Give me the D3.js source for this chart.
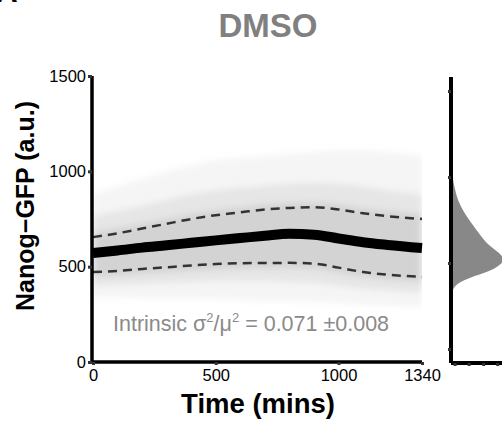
<!DOCTYPE html>
<html>
<head>
<meta charset="UTF-8">
<style>
  body { margin: 0; background: #fff; }
  text { font-family: "Liberation Sans", Arial, Helvetica, sans-serif; }
</style>
<title>DMSO Nanog-GFP</title>
</head>
<body>
<script src="https://cdn.jsdelivr.net/npm/d3@7/dist/d3.min.js"></script>
<script>
// time points (mins)
var times = [0, 100, 200, 300, 400, 500, 600, 700, 800, 900, 1000, 1100, 1200, 1340];
// mean trace and +/- sd (dashed)
var meanVals  = [572, 585, 600, 612, 625, 638, 650, 662, 672, 668, 648, 628, 614, 598];
var upperVals = [655, 675, 700, 725, 750, 770, 785, 800, 808, 812, 800, 780, 765, 750];
var lowerVals = [472, 478, 488, 497, 506, 514, 518, 519, 520, 516, 495, 472, 458, 446];
// envelopes of the single cell traces (grey cloud)
var outerHi = [880, 920, 960, 1000, 1030, 1060, 1070, 1080, 1090, 1100, 1110, 1110, 1100, 1080];
var outerLo = [340, 340, 335, 330, 330, 330, 325, 320, 320, 315, 310, 300, 295, 290];
var midHi   = [760, 790, 820, 850, 880, 900, 915, 925, 935, 940, 935, 920, 900, 880];
var midLo   = [400, 405, 410, 415, 420, 425, 425, 425, 420, 415, 400, 385, 375, 365];
var innerHi = [680, 700, 725, 750, 775, 795, 810, 825, 832, 835, 825, 805, 790, 775];
var innerLo = [450, 455, 465, 472, 480, 488, 492, 494, 494, 490, 470, 448, 435, 422];
// distribution panel
var densLevels = [320, 370, 410, 440, 460, 490, 516, 540, 570, 600, 640, 680, 720, 780, 850, 920, 1020];
var densVals   = [0, 0.03, 0.3, 0.6, 0.78, 0.93, 1.0, 0.97, 0.86, 0.72, 0.6, 0.5, 0.4, 0.26, 0.13, 0.06, 0];
var yTicks = [0, 500, 1000, 1500];
var xTicks = [0, 500, 1000, 1340];
var histTicks = [0, 500, 1000, 1500];
var histXTicks = [0.05, 0.32, 0.6, 0.87];

var width = 502, height = 427;
var svg = d3.select("body").append("svg")
  .attr("width", width).attr("height", height);

var defs = svg.append("defs");
defs.append("filter").attr("id", "soft")
  .attr("x", "-5%").attr("y", "-20%").attr("width", "110%").attr("height", "140%")
  .append("feGaussianBlur").attr("stdDeviation", 3);
defs.append("clipPath").attr("id", "plotclip")
  .append("rect").attr("x", 93).attr("y", 60).attr("width", 329).attr("height", 301);

var x = d3.scaleLinear().domain([0, 1340]).range([93, 422]);
var y = d3.scaleLinear().domain([0, 1500]).range([362, 76]);

// grey cloud
var cloud = svg.append("g").attr("clip-path", "url(#plotclip)")
  .append("g").attr("filter", "url(#soft)");
function band(hi, lo, op) {
  var area = d3.area()
    .x(function(d, i) { return x(times[i]); })
    .y0(function(d, i) { return y(lo[i]); })
    .y1(function(d, i) { return y(hi[i]); })
    .curve(d3.curveMonotoneX);
  cloud.append("path").datum(times).attr("d", area)
    .attr("fill", "#aaa").attr("opacity", op);
}
band(outerHi, outerLo, 0.12);
band(midHi, midLo, 0.2);
band(innerHi, innerLo, 0.3);

function line(vals) {
  return d3.line()
    .x(function(d, i) { return x(times[i]); })
    .y(function(d, i) { return y(vals[i]); })
    .curve(d3.curveMonotoneX)(times);
}
svg.append("path").attr("d", line(upperVals)).attr("fill", "none")
  .attr("stroke", "#333").attr("stroke-width", 2.5).attr("stroke-dasharray", "9,6");
svg.append("path").attr("d", line(lowerVals)).attr("fill", "none")
  .attr("stroke", "#333").attr("stroke-width", 2.5).attr("stroke-dasharray", "9,6");
svg.append("path").attr("d", line(meanVals)).attr("fill", "none")
  .attr("stroke", "#000").attr("stroke-width", 10);

// axes
var yAxis = svg.append("g").attr("transform", "translate(92,0)")
  .call(d3.axisLeft(y).tickValues(yTicks).tickSize(4).tickPadding(2).tickFormat(d3.format("d")));
var xAxis = svg.append("g").attr("transform", "translate(0,362)")
  .call(d3.axisBottom(x).tickValues(xTicks).tickSize(3).tickPadding(4).tickFormat(d3.format("d")));
[yAxis, xAxis].forEach(function(a) {
  a.select(".domain").attr("stroke", "#000").attr("stroke-width", 3.5);
  a.selectAll(".tick line").attr("stroke", "#333").attr("stroke-width", 3);
  a.selectAll(".tick text").attr("font-size", 16.5).attr("fill", "#000")
    .attr("font-family", "Liberation Sans, Arial, sans-serif");
});
yAxis.select(".domain").attr("d", "M0,76V362");
xAxis.select(".domain").attr("d", "M92,0H422");

// distribution panel
var hy = d3.scaleLinear().domain([0, 500]).range([349, 263]);
var hx = d3.scaleLinear().domain([0, 1]).range([452, 504]);
var dens = d3.area()
  .y(function(d, i) { return hy(densLevels[i]); })
  .x0(hx(0))
  .x1(function(d, i) { return hx(densVals[i]); })
  .curve(d3.curveBasis);
svg.append("path").datum(densLevels).attr("d", dens).attr("fill", "#888");

var hAxis = svg.append("g").attr("transform", "translate(451,0)")
  .call(d3.axisLeft(hy).tickValues(histTicks).tickSize(3).tickFormat(""));
hAxis.select(".domain").attr("d", "M0,77V363");
var hxAxis = svg.append("g").attr("transform", "translate(0,363)")
  .call(d3.axisBottom(hx).tickValues(histXTicks).tickSize(3).tickFormat(""));
hxAxis.select(".domain").attr("d", "M451,0H503");
[hAxis, hxAxis].forEach(function(a) {
  a.select(".domain").attr("stroke", "#000").attr("stroke-width", 4);
  a.selectAll(".tick line").attr("stroke", "#333").attr("stroke-width", 3);
});

// labels
svg.append("text").attr("x", 268).attr("y", 37).attr("text-anchor", "middle")
  .attr("font-size", 33).attr("font-weight", "bold").attr("fill", "#808080").text("DMSO");
svg.append("text").attr("x", -4).attr("y", 2).attr("font-size", 30)
  .attr("font-weight", "bold").attr("fill", "#000").text("A");
svg.append("text").attr("transform", "translate(34,206) rotate(-90)")
  .attr("text-anchor", "middle").attr("font-size", 25).attr("font-weight", "bold")
  .text("Nanog\u2212GFP (a.u.)");
svg.append("text").attr("x", 258).attr("y", 413).attr("text-anchor", "middle")
  .attr("font-size", 27.5).attr("font-weight", "bold").text("Time (mins)");

var note = svg.append("text").attr("x", 113).attr("y", 331)
  .attr("font-size", 21.5).attr("fill", "#8a8a8a");
note.append("tspan").text("Intrinsic \u03c3");
note.append("tspan").attr("font-size", 13).attr("dy", -9).text("2");
note.append("tspan").attr("dy", 9).text("/\u03bc");
note.append("tspan").attr("font-size", 13).attr("dy", -9).text("2");
note.append("tspan").attr("dy", 9).text(" = 0.071 \u00b10.008");
</script>
</body>
</html>
